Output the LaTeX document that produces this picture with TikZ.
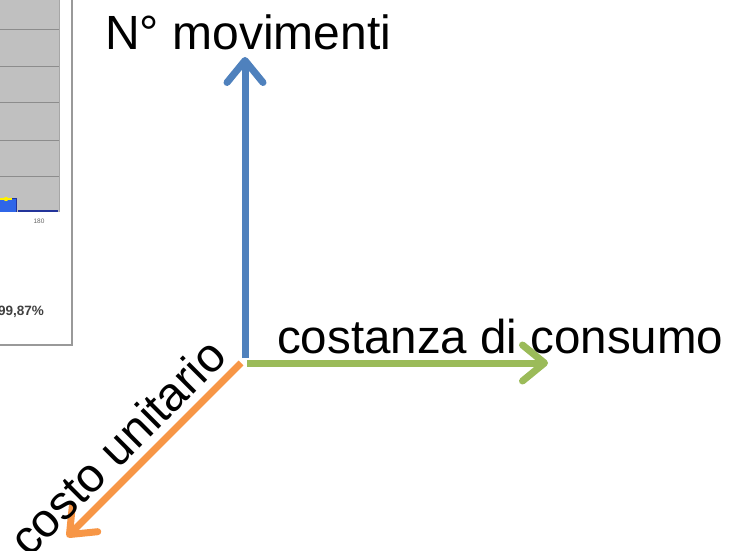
\documentclass[tikz,border=0pt]{standalone}
\usepackage{fontspec}
\setmainfont{Liberation Sans}
\usepackage{xcolor}
\usetikzlibrary{arrows.meta}

\definecolor{axisblue}{HTML}{4F81BD}
\definecolor{axisgreen}{HTML}{9BBB59}
\definecolor{axisorange}{HTML}{F79646}
\definecolor{chartgray}{HTML}{C0C0C0}
\definecolor{gridgray}{HTML}{8C8C8C}
\definecolor{barblue}{HTML}{2F66E8}
\definecolor{bardark}{HTML}{23349A}

\tikzset{
    axis/.style={line width=7pt, -{Straight Barb[round, length=22pt, width=36pt]}},
    label/.style={inner sep=0pt, font=\fontsize{47.5}{56}\selectfont},
}

\begin{document}
\begin{tikzpicture}[x=1pt, y=-1pt]
    \useasboundingbox (0,0) rectangle (729,551);

    % pezzo del grafico a sinistra
    \fill[chartgray] (0,0) rectangle (59,212);
    \foreach \gy in {30,67,103,140,176}
        \draw[gridgray, line width=1pt] (0,\gy) -- (59,\gy);
    \fill[barblue] (0,198) rectangle (16,212);
    \draw[bardark, line width=0.8pt] (0,198) -- (16,198) -- (16,212);
    \draw[yellow, line width=1.5pt] (0,199) -- (12,199);
    \fill[yellow] (6,199) circle (2.2pt);
    \fill[bardark] (18,209.5) rectangle (58,212);
    \draw[gray!70, line width=0.6pt] (59,0) -- (59,212);
    \node[font=\fontsize{6.5}{8}\selectfont, text=black!60] (tick) at (39,221) {180};
    \node[font=\bfseries\fontsize{13.5}{16}\selectfont, text=black!75, anchor=base east, inner sep=0pt] (perc) at (44,315) {99,87\%};
    \draw[gray!80, line width=1.2pt] (0,345) -- (72,345) -- (72,0);

    % assi
    \coordinate (Ob) at (245,358);
    \coordinate (Og) at (247,363);
    \coordinate (Oo) at (241,363);
    \coordinate (Nb) at (245,57);
    \coordinate (Eg) at (548,363);
    \coordinate (So) at (67,537);

    \draw[axis, axisblue] (Ob) -- (Nb);
    \draw[axis, axisgreen] (Og) -- (Eg);
    \draw[axis, axisorange] (Oo) -- (So);

    \node[label, font=\fontsize{48}{56}\selectfont, anchor=base west] (mov) at (105,50) {N° movimenti};
    \node[label, anchor=base west] (cons) at (277,353) {costanza di consumo};
    \node[label, anchor=base west, rotate=45] (cost) at (29,559) {costo unitario};

\end{tikzpicture}
\end{document}
